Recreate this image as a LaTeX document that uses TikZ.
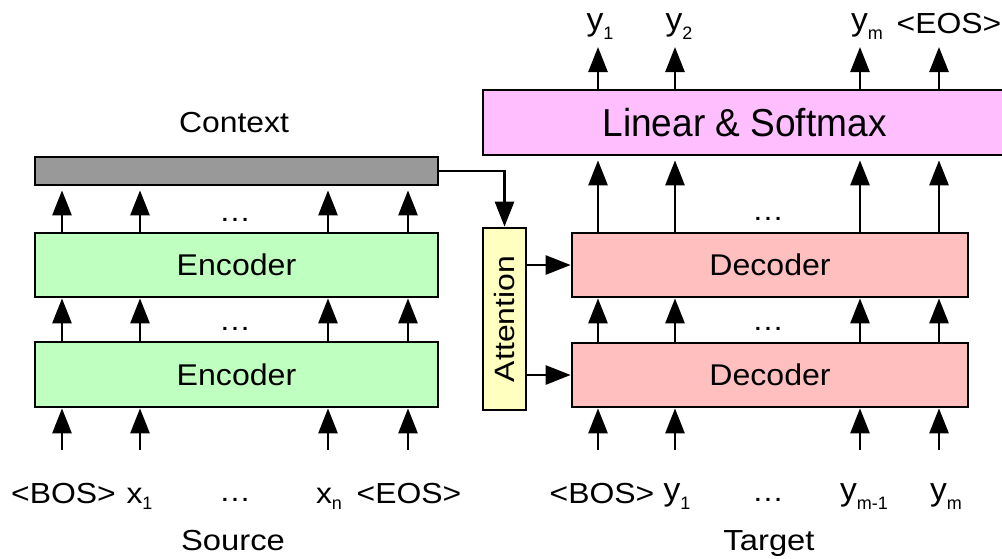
\documentclass[tikz,border=0pt]{standalone}
\usepackage{fontspec}
\setmainfont{Liberation Sans}
\usepackage{graphicx}
\usetikzlibrary{arrows.meta}

\definecolor{ctxgray}{HTML}{999999}
\definecolor{encgreen}{HTML}{BFFFBF}
\definecolor{decpink}{HTML}{FFBFBF}
\definecolor{linmagenta}{HTML}{FFBFFF}
\definecolor{attyellow}{HTML}{FFFFBF}

% slightly widened body text
\newcommand\wtext[1]{\scalebox{1.1}[1]{#1}}
% subscript set below the baseline
\newcommand\subtok[1]{\raisebox{-6pt}{\fontsize{18}{18}\selectfont #1}}
% x token and y token with subscript
\newcommand\xtok[1]{\scalebox{1.1}[1]{x}\subtok{#1}}
\newcommand\ytok[1]{\raisebox{3pt}{\scalebox{1.05}[1]{\fontsize{32}{32}\selectfont y}}\subtok{#1}}

\begin{document}
\begin{tikzpicture}[x=1pt,y=-1pt,
  box/.style={draw,line width=2.7pt,inner sep=0pt,font=\fontsize{30}{30}\selectfont},
  arr/.style={line width=2.7pt,-{Triangle[width=19pt,length=25pt]}},
  lbl/.style={anchor=base,inner sep=0pt,font=\fontsize{29}{29}\selectfont}]
\useasboundingbox (0,0) rectangle (1002,558);

% encoder side
\node[box,fill=ctxgray,minimum width=403pt,minimum height=28pt] (ctx) at (236.5,171) {};
\node[box,fill=encgreen,minimum width=403pt,minimum height=64pt] (enc2) at (236.5,265) {\scalebox{1.07}[1]{Encoder}};
\node[box,fill=encgreen,minimum width=403pt,minimum height=65pt] (enc1) at (236.5,374.5) {\scalebox{1.07}[1]{Encoder}};
\node[lbl] (ctxlbl) at (234,132) {\wtext{Context}};

% attention
\node[box,fill=attyellow,minimum width=43pt,minimum height=182pt] (att) at (504.5,319)
  {\rotatebox{90}{\fontsize{28}{28}\selectfont\scalebox{1.14}[1]{Attention}}};

% decoder side
\node[box,fill=decpink,minimum width=396pt,minimum height=64pt] (dec2) at (770,265) {\scalebox{1.07}[1]{Decoder}};
\node[box,fill=decpink,minimum width=396pt,minimum height=64pt] (dec1) at (770,375) {\scalebox{1.07}[1]{Decoder}};
\node[box,fill=linmagenta,minimum width=523pt,minimum height=65pt,font=\fontsize{39}{39}\selectfont]
  (lin) at (744.5,122.5) {\scalebox{0.95}[1]{Linear \& Softmax}};

% dots between columns
\node[lbl] (edots2) at (235,221) {\wtext{\dots}};
\node[lbl] (edots1) at (235,330) {\wtext{\dots}};
\node[lbl] (ddots2) at (768,220) {\wtext{\dots}};
\node[lbl] (ddots1) at (768,330) {\wtext{\dots}};

% encoder columns
\foreach \c/\x in {a/62,b/140,c/328,d/408}{
  \coordinate (src\c) at (\x,450);
  \draw[arr] (src\c) -- (src\c |- enc1.south);
  \draw[arr] (enc1.north -| src\c) -- (enc2.south -| src\c);
  \draw[arr,shorten >=4pt] (enc2.north -| src\c) -- (ctx.south -| src\c);
}

% decoder columns
\foreach \c/\x in {a/598,b/675,c/860,d/939}{
  \coordinate (tgt\c) at (\x,450);
  \coordinate (out\c) at (\x,47);
  \draw[arr] (tgt\c) -- (tgt\c |- dec1.south);
  \draw[arr] (dec1.north -| tgt\c) -- (dec2.south -| tgt\c);
  \draw[arr,shorten >=4pt] (dec2.north -| tgt\c) -- (lin.south -| tgt\c);
  \draw[arr] (lin.north -| tgt\c) -- (out\c);
}

% context and attention links
\draw[arr] (ctx.east) -| (att.north);
\draw[arr] (att.east |- dec2) -- (dec2.west);
\draw[arr] (att.east |- dec1) -- (dec1.west);

% source tokens
\node[lbl] (sbos) at (63.5,503) {\wtext{<BOS>}};
\node[lbl] (sx1)  at (139.5,503) {\xtok{1}};
\node[lbl] (sdot) at (235,501) {\wtext{\dots}};
\node[lbl] (sxn)  at (329,503) {\xtok{n}};
\node[lbl] (seos) at (409,503) {\wtext{<EOS>}};
\node[lbl] (srcl) at (233,550) {\scalebox{1.13}[1]{Source}};

% target tokens
\node[lbl] (tbos) at (602,503) {\wtext{<BOS>}};
\node[lbl] (ty1)  at (677,503) {\ytok{1}};
\node[lbl] (tdot) at (768,501) {\wtext{\dots}};
\node[lbl] (tym1) at (864,503) {\ytok{m-1}};
\node[lbl] (tym)  at (946,503) {\ytok{m}};
\node[lbl] (tgtl) at (769,550) {\scalebox{1.13}[1]{Target}};

% output tokens
\node[lbl] (oy1)  at (600,33) {\ytok{1}};
\node[lbl] (oy2)  at (679,33) {\ytok{2}};
\node[lbl] (oym)  at (867,33) {\ytok{m}};
\node[lbl] (oeos) at (949,33) {\wtext{<EOS>}};
\end{tikzpicture}
\end{document}
